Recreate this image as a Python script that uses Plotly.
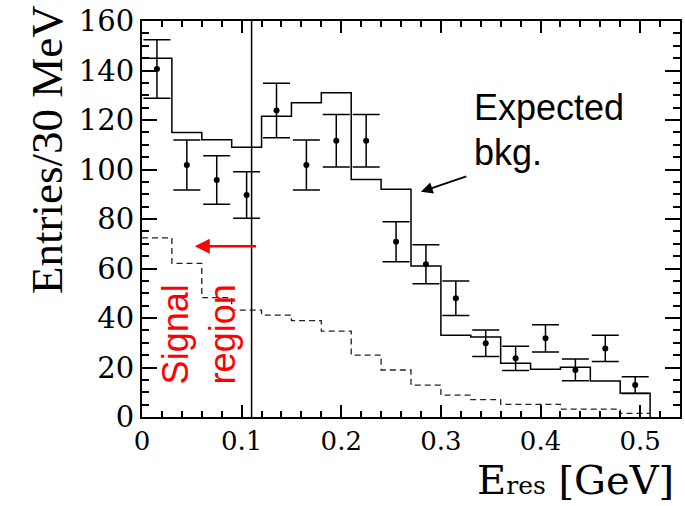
import plotly.graph_objects as go

# ---- data ----
bin_edges = [0.00, 0.03, 0.06, 0.09, 0.12, 0.15, 0.18, 0.21, 0.24, 0.27,
             0.30, 0.33, 0.36, 0.39, 0.42, 0.45, 0.48, 0.51]
expected_bkg = [145, 115, 112, 109, 121.5, 127, 131, 96, 92, 61,
                33, 32.3, 21.7, 19.3, 20.1, 14.5, 9.6]
signal_mc = [72.4, 62.1, 48.2, 43.2, 41.2, 38.9, 34.7, 25, 19, 12.9,
             8.8, 7.0, 5.1, 5.1, 3.2, 3.2, 1.5]
data_counts = [140.6, 101.8, 95.8, 89.7, 123.8, 101.8, 111.6, 111.6, 70.8, 61.7,
               48, 29.8, 23.7, 31.8, 19, 27.7, 12.9]
data_err = [11.8, 10.1, 9.8, 9.4, 11, 10.1, 10.6, 10.6, 8.1, 7.9,
            7, 5.4, 4.9, 5.5, 4.4, 5.3, 3.4]
signal_cut = 0.11
x_ticks = [0, 0.1, 0.2, 0.3, 0.4, 0.5]
y_ticks = [0, 20, 40, 60, 80, 100, 120, 140, 160]

centers = [(a + b) / 2 for a, b in zip(bin_edges[:-1], bin_edges[1:])]


def step(vals, close=True):
    xs = list(bin_edges) + ([bin_edges[-1]] if close else [])
    ys = list(vals) + [vals[-1]] + ([0] if close else [])
    return xs, ys


fig = go.Figure()

sx, sy = step(signal_mc, close=False)
fig.add_trace(go.Scatter(x=sx, y=sy, mode="lines", line_shape="hv",
                         line=dict(color="#222222", width=1.3, dash="6px,4px"),
                         hoverinfo="skip"))

bx, by = step(expected_bkg)
fig.add_trace(go.Scatter(x=bx, y=by, mode="lines", line_shape="hv",
                         line=dict(color="black", width=1.5), hoverinfo="skip"))

fig.add_trace(go.Scatter(x=[signal_cut, signal_cut], y=[y_ticks[0], y_ticks[-1]],
                         mode="lines", line=dict(color="black", width=1.5),
                         hoverinfo="skip"))

fig.add_trace(go.Scatter(x=centers, y=data_counts, mode="markers",
                         marker=dict(color="black", size=6),
                         error_y=dict(type="data", array=data_err, visible=True,
                                      color="black", thickness=1.5, width=13.5)))

serif = "DejaVu Serif"
fig.update_layout(
    width=685, height=506,
    margin=dict(l=142, r=3, t=21, b=89),
    plot_bgcolor="white", paper_bgcolor="white",
    showlegend=False,
)
fig.update_xaxes(
    range=[0, 0.54], tickmode="array", tickvals=x_ticks,
    ticktext=[f"{v:g}" for v in x_ticks],
    showgrid=False, zeroline=False,
    showline=True, linecolor="black", linewidth=2, mirror="allticks",
    ticks="inside", ticklen=12, tickwidth=1.5, tickcolor="black",
    minor=dict(dtick=0.02, ticks="inside", ticklen=6, tickwidth=1.5, tickcolor="black"),
    tickfont=dict(family=serif, size=26, color="black"),
)
fig.update_yaxes(
    range=[0, 160], tickmode="array", tickvals=y_ticks,
    ticktext=[str(v) for v in y_ticks],
    showgrid=False, zeroline=False,
    showline=True, linecolor="black", linewidth=2, mirror="allticks",
    ticks="inside", ticklen=15, tickwidth=1.5, tickcolor="black",
    minor=dict(dtick=5, ticks="inside", ticklen=7, tickwidth=1.5, tickcolor="black"),
    tickfont=dict(family=serif, size=29, color="black"),
)

# axis titles
fig.add_annotation(xref="paper", yref="paper", x=-0.178, y=0.675,
                   text="Entries/30 MeV", textangle=-90, showarrow=False,
                   xanchor="center", yanchor="middle",
                   font=dict(family="Liberation Serif", size=45, color="black"))
fig.add_annotation(xref="paper", yref="paper", x=0.9926, y=-0.222,
                   text="E<span style='font-size:25px'>res</span> [GeV]",
                   showarrow=False, xanchor="right", yanchor="bottom",
                   font=dict(family=serif, size=40, color="black"))

# signal region text + arrow
fig.add_annotation(x=0.0575, y=33.5, xref="x", yref="y",
                   text="Signal<br>region", textangle=-90, showarrow=False,
                   font=dict(family="Liberation Sans", size=36, color="red"))
fig.add_annotation(x=0.053, y=69, ax=0.116, ay=69, xref="x", yref="y",
                   axref="x", ayref="y", text="", showarrow=True,
                   arrowhead=2, arrowsize=1.2, arrowwidth=2.5, arrowcolor="red")

# expected bkg text + arrow
fig.add_annotation(x=0.331, y=125, xref="x", yref="y", text="Expected",
                   showarrow=False, xanchor="left", yanchor="middle",
                   font=dict(family="Liberation Sans", size=36, color="black"))
fig.add_annotation(x=0.331, y=107, xref="x", yref="y", text="bkg.",
                   showarrow=False, xanchor="left", yanchor="middle",
                   font=dict(family="Liberation Sans", size=36, color="black"))
fig.add_annotation(x=0.280, y=91, ax=0.327, ay=97.4, xref="x", yref="y",
                   axref="x", ayref="y", text="", showarrow=True,
                   arrowhead=2, arrowsize=1.3, arrowwidth=1.8, arrowcolor="black")

fig.write_html("out.html")
